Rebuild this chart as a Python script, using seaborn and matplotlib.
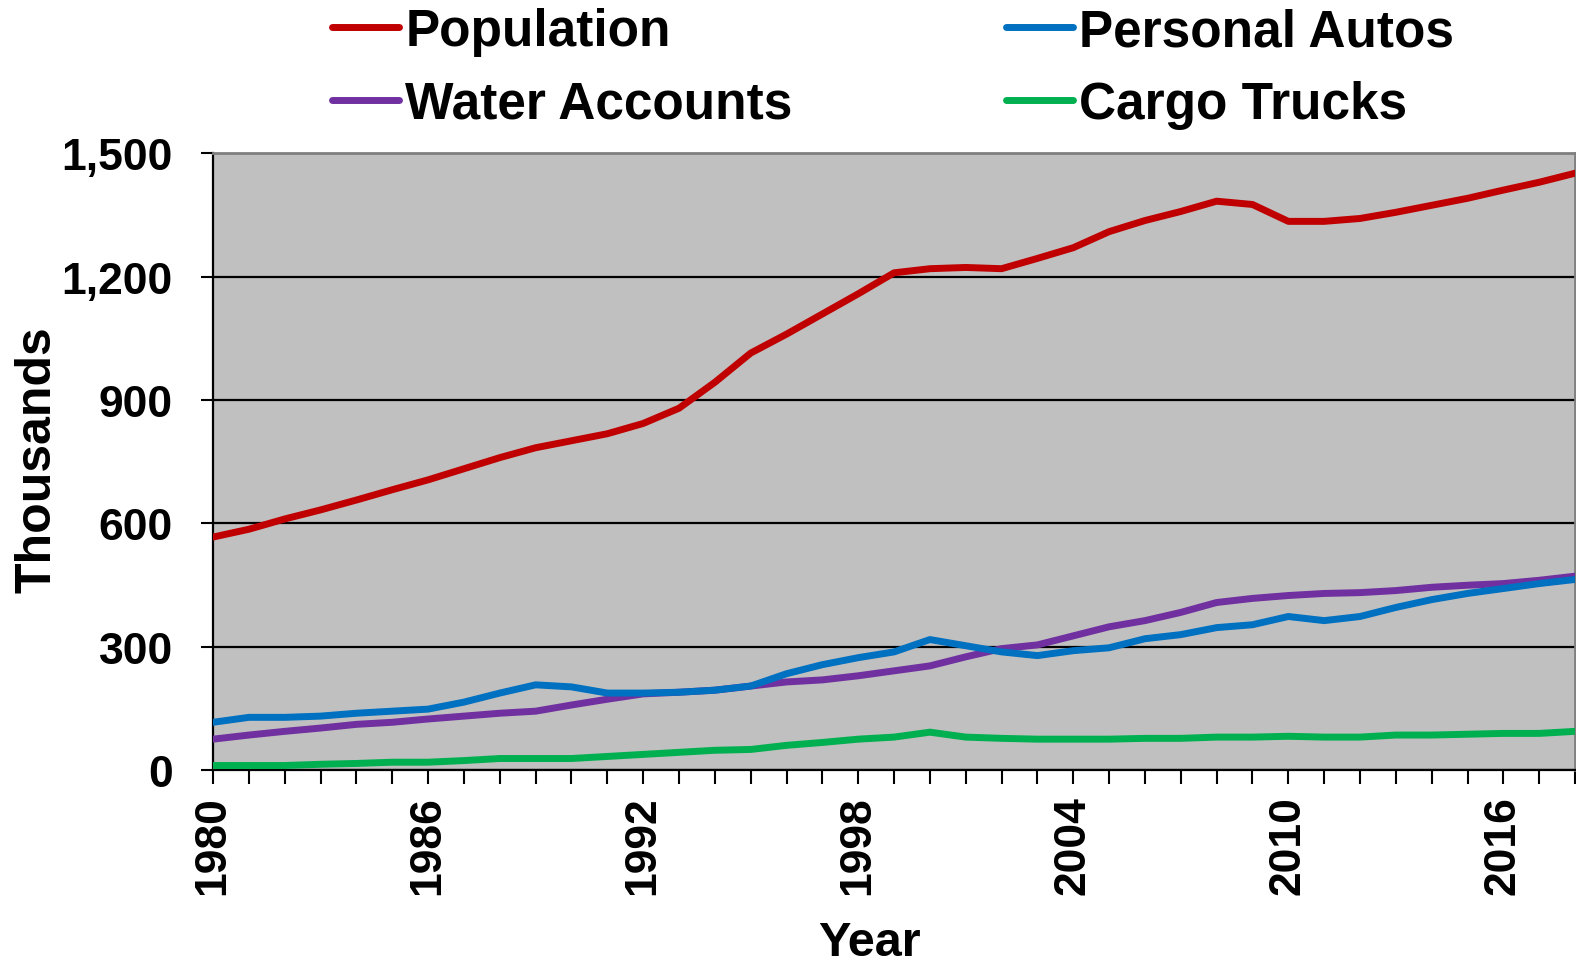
import numpy as np
import pandas as pd
import matplotlib
matplotlib.use("Agg")
import matplotlib.pyplot as plt
from matplotlib.ticker import MultipleLocator, FuncFormatter
import seaborn as sns

# Values (thousands)
years = list(range(1980, 2019))

population = [567, 586, 611, 633, 657, 682, 706, 733, 760, 784,
              801, 818, 843, 880, 943, 1014, 1060, 1109, 1158, 1209,
              1219, 1222, 1219, 1244, 1270, 1309, 1336, 1358, 1383, 1375,
              1334, 1334, 1341, 1356, 1373, 1390, 1410, 1429, 1451]

water_accounts = [76, 86, 95, 103, 112, 117, 125, 132, 139, 144,
                  159, 173, 186, 190, 195, 205, 215, 220, 230, 242,
                  254, 276, 296, 305, 327, 349, 364, 384, 408, 418,
                  425, 430, 432, 437, 445, 450, 454, 462, 472]

personal_autos = [117, 129, 129, 132, 139, 144, 149, 166, 188, 208,
                  203, 188, 188, 190, 195, 205, 235, 257, 274, 288,
                  318, 303, 288, 279, 291, 298, 320, 330, 347, 354,
                  374, 364, 374, 396, 415, 430, 442, 454, 464]

cargo_trucks = [12, 12, 12, 15, 17, 20, 20, 24, 29, 29,
                29, 34, 39, 44, 49, 51, 61, 68, 76, 81,
                93, 81, 78, 76, 76, 76, 78, 78, 81, 81,
                83, 81, 81, 86, 86, 88, 90, 90, 95]

series_names = ["Population", "Water Accounts", "Personal Autos", "Cargo Trucks"]
colors = ["#C00000", "#7030A0", "#0070C0", "#00B050"]

df = pd.DataFrame({"Year": years,
                   "Population": population,
                   "Water Accounts": water_accounts,
                   "Personal Autos": personal_autos,
                   "Cargo Trucks": cargo_trucks})
long_df = df.melt(id_vars="Year", var_name="Series", value_name="Thousands")

sns.set_style("white")
plt.rcParams["font.family"] = ["Liberation Sans", "DejaVu Sans"]
plt.rcParams["font.weight"] = "bold"
plt.rcParams["text.color"] = "black"
plt.rcParams["axes.labelcolor"] = "black"
plt.rcParams["xtick.color"] = "black"
plt.rcParams["ytick.color"] = "black"

fig = plt.figure(figsize=(15.76, 9.78), dpi=100)
ax = fig.add_axes([0.1352, 0.2112, 0.8642, 0.6313])
ax.set_facecolor("#C0C0C0")

sns.lineplot(data=long_df, x="Year", y="Thousands", hue="Series",
             hue_order=series_names, palette=colors, linewidth=5,
             ax=ax, legend=False, zorder=3)

ax.set_xlim(1980, 2018)
ax.set_ylim(0, 1500)
ax.yaxis.set_major_locator(MultipleLocator(300))
ax.yaxis.set_major_formatter(FuncFormatter(lambda v, p: f"{int(v):,}"))
ax.xaxis.set_major_locator(MultipleLocator(6))
ax.xaxis.set_minor_locator(MultipleLocator(1))
ax.grid(axis="y", color="black", linewidth=1.6, zorder=1)
ax.set_axisbelow(True)

for s in ["top", "right"]:
    ax.spines[s].set_color("#808080")
    ax.spines[s].set_linewidth(2)
for s in ["left", "bottom"]:
    ax.spines[s].set_color("black")
    ax.spines[s].set_linewidth(1.6)

ax.tick_params(axis="y", which="major", direction="out", length=9, width=1.5,
               pad=20, labelsize=32, left=True)
ax.tick_params(axis="x", which="both", direction="out", length=10, width=1.5,
               pad=8, bottom=True)
ax.tick_params(axis="x", which="major", labelsize=32, labelrotation=90)
for lbl in ax.get_xticklabels() + ax.get_yticklabels():
    lbl.set_fontweight("bold")

ax.set_xlabel("Year", fontsize=35, fontweight="bold")
ax.set_ylabel("Thousands", fontsize=36, fontweight="bold")
ax.xaxis.set_label_coords(0.482, -0.243)
ax.yaxis.set_label_coords(-0.112, 0.505)

handles = [plt.Line2D([], [], color=c, linewidth=5, solid_capstyle="round")
           for c in colors]
fig.legend(handles, series_names, ncol=2, loc="upper left",
           bbox_to_anchor=(0.1815, 1.039), frameon=False,
           prop={"size": 37, "weight": "bold"}, handlelength=1.3,
           handletextpad=0.12, columnspacing=4.15, labelspacing=0.46)

fig.savefig("out.png", dpi=100)
